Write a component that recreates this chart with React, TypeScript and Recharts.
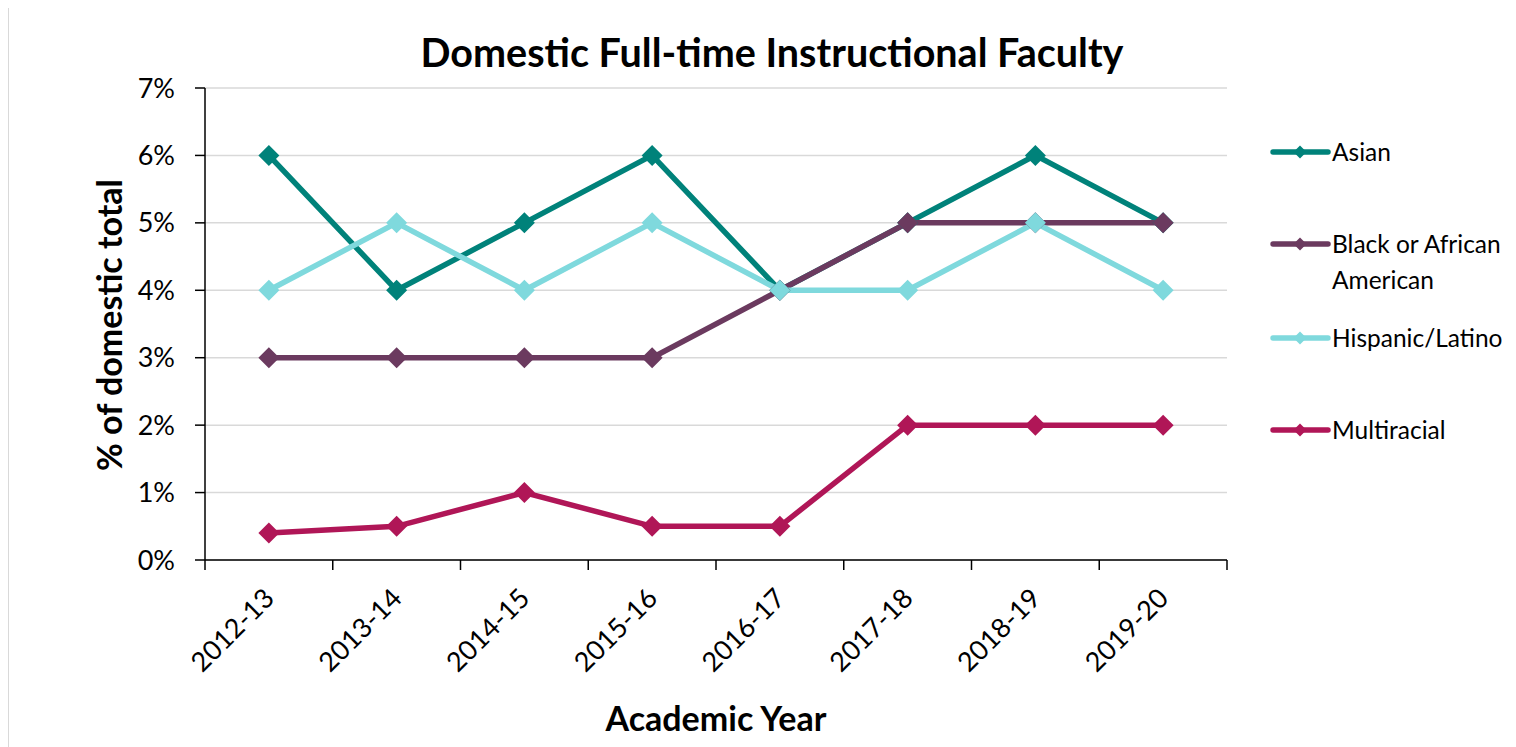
import { LineChart, Line, XAxis, YAxis, CartesianGrid } from "recharts"

const categories = ["2012-13", "2013-14", "2014-15", "2015-16", "2016-17", "2017-18", "2018-19", "2019-20"]
const asian = [6, 4, 5, 6, 4, 5, 6, 5]
const blackAfricanAmerican = [3, 3, 3, 3, 4, 5, 5, 5]
const hispanicLatino = [4, 5, 4, 5, 4, 4, 5, 4]
const multiracial = [0.4, 0.5, 1, 0.5, 0.5, 2, 2, 2]
const yTicks = [0, 1, 2, 3, 4, 5, 6, 7]

const seriesInfo = [
  { key: "asian", name: "Asian", color: "#00827a" },
  { key: "black", name: "Black or African American", color: "#6b3a5f" },
  { key: "hispanic", name: "Hispanic/Latino", color: "#7fd9dd" },
  { key: "multi", name: "Multiracial", color: "#b01657" },
]

const data = categories.map((year, i) => ({
  year,
  asian: asian[i],
  black: blackAfricanAmerican[i],
  hispanic: hispanicLatino[i],
  multi: multiracial[i],
}))

const FONT = "Lato, 'Noto Sans', sans-serif"
const W = 1508
const H = 743
const PLOT_LEFT = 197
const PLOT_RIGHT = 1219
const PLOT_TOP = 84
const PLOT_BOTTOM = 556
const BAND = (PLOT_RIGHT - PLOT_LEFT) / categories.length

const Diamond = (props: any) => {
  const { cx, cy, stroke } = props
  if (cx == null || cy == null) return null
  const r = 10.5
  return (
    <polygon
      points={`${cx},${cy - r} ${cx + r},${cy} ${cx},${cy + r} ${cx - r},${cy}`}
      fill={stroke}
    />
  )
}

const XTick = (props: any) => {
  const { x, y, payload, index } = props
  const tx = x + 7
  const ty = y + 40
  return (
    <g>
      <line x1={x - BAND / 2} y1={y} x2={x - BAND / 2} y2={y + 10} stroke="#000" strokeWidth={1.5} />
      {index === categories.length - 1 && (
        <line x1={x + BAND / 2} y1={y} x2={x + BAND / 2} y2={y + 10} stroke="#000" strokeWidth={1.5} />
      )}
      <text
        x={tx}
        y={ty}
        transform={`rotate(-45, ${tx}, ${ty})`}
        textAnchor="end"
        fontSize={27}
        fontFamily={FONT}
        fill="#000"
      >
        {payload.value}
      </text>
    </g>
  )
}

export default function App() {
  return (
    <div style={{ position: "relative", width: W, height: H, marginTop: -4, overflow: "hidden", fontFamily: FONT }}>
      {/* outer frame */}
      <div
        style={{
          position: "absolute",
          left: 0,
          top: 0,
          width: W + 40,
          height: H + 40,
          border: "1.5px solid #d9d9d9",
        }}
      />
      <div
        style={{
          position: "absolute",
          left: 764,
          top: 47,
          transform: "translate(-50%, -50%)",
          fontSize: 39.5,
          fontWeight: 700,
          whiteSpace: "nowrap",
        }}
      >
        Domestic Full-time Instructional Faculty
      </div>
      <div
        style={{
          position: "absolute",
          left: 100,
          top: 321,
          transform: "translate(-50%, -50%) rotate(-90deg)",
          fontSize: 34,
          fontWeight: 700,
          whiteSpace: "nowrap",
        }}
      >
        % of domestic total
      </div>

      <LineChart
        width={W}
        height={H}
        data={data}
        margin={{ top: PLOT_TOP, right: W - PLOT_RIGHT, left: 0, bottom: 0 }}
      >
        <CartesianGrid horizontal vertical={false} stroke="#d9d9d9" strokeWidth={1.5} />
        <XAxis
          dataKey="year"
          height={H - PLOT_BOTTOM}
          padding={{ left: BAND / 2, right: BAND / 2 }}
          axisLine={{ stroke: "#000", strokeWidth: 1.5 }}
          tickLine={false}
          tickSize={0}
          tickMargin={0}
          interval={0}
          tick={<XTick />}
          label={{
            value: "Academic Year",
            position: "insideBottom",
            offset: 16,
            style: { fontSize: 34, fontWeight: 700, fill: "#000", fontFamily: FONT },
          }}
        />
        <YAxis
          width={PLOT_LEFT}
          domain={[0, 7]}
          ticks={yTicks}
          interval={0}
          tickFormatter={(v: number) => `${v}%`}
          axisLine={{ stroke: "#000", strokeWidth: 1.5 }}
          tickLine={{ stroke: "#000", strokeWidth: 1.5 }}
          tickSize={10}
          tickMargin={20}
          tick={{ fontSize: 27, fill: "#000", fontFamily: FONT }}
        />
        {seriesInfo.map((s) => (
          <Line
            key={s.key}
            type="linear"
            dataKey={s.key}
            name={s.name}
            stroke={s.color}
            strokeWidth={5.5}
            dot={<Diamond />}
            activeDot={false}
            isAnimationActive={false}
          />
        ))}
      </LineChart>

      {/* legend */}
      {seriesInfo.map((s, i) => {
        const ys = [148, 240, 334, 426]
        return (
          <div key={s.key} style={{ position: "absolute", left: 1262, top: ys[i] - 14, display: "flex", alignItems: "flex-start" }}>
            <svg width={62} height={28} style={{ flex: "none" }}>
              <line x1={3} y1={14} x2={58} y2={14} stroke={s.color} strokeWidth={5.5} strokeLinecap="round" />
              <polygon points="30,7.5 36.5,14 30,20.5 23.5,14" fill={s.color} />
            </svg>
            <div style={{ fontSize: 24.5, lineHeight: "36px", marginTop: -4, width: 220, color: "#000" }}>
              {s.name === "Black or African American" ? (
                <>
                  Black or African
                  <br />
                  American
                </>
              ) : (
                s.name
              )}
            </div>
          </div>
        )
      })}
    </div>
  )
}
